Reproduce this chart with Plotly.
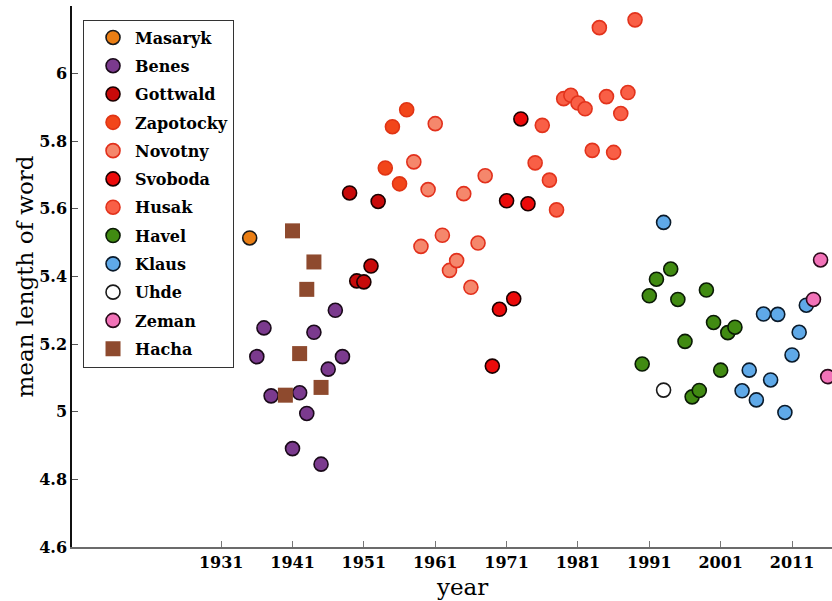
import plotly.graph_objects as go

# ---- data ----
masaryk_year = [1935]
masaryk_val = [5.514]

benes_year = [1936, 1937, 1938, 1941, 1942, 1943, 1944, 1945, 1946, 1947, 1948]
benes_val = [5.163, 5.248, 5.047, 4.891, 5.056, 4.995, 5.235, 4.845, 5.126, 5.300, 5.163]

gottwald_year = [1949, 1950, 1951, 1952, 1953]
gottwald_val = [5.647, 5.387, 5.384, 5.431, 5.622]

zapotocky_year = [1954, 1955, 1956, 1957]
zapotocky_val = [5.721, 5.843, 5.674, 5.893]

novotny_year = [1958, 1959, 1960, 1961, 1962, 1963, 1964, 1965, 1966, 1967, 1968]
novotny_val = [5.739, 5.489, 5.657, 5.852, 5.522, 5.418, 5.447, 5.645, 5.368, 5.499, 5.698]

svoboda_year = [1969, 1970, 1971, 1972, 1973, 1974]
svoboda_val = [5.135, 5.303, 5.624, 5.334, 5.866, 5.615]

husak_year = [1975, 1976, 1977, 1978, 1979, 1980, 1981, 1982, 1983, 1984, 1985, 1986, 1987, 1988, 1989]
husak_val = [5.736, 5.847, 5.685, 5.597, 5.926, 5.936, 5.913, 5.896, 5.773, 6.136, 5.932, 5.767, 5.882, 5.944, 6.159]

havel_year = [1990, 1991, 1992, 1994, 1995, 1996, 1997, 1998, 1999, 2000, 2001, 2002, 2003]
havel_val = [5.141, 5.343, 5.392, 5.422, 5.332, 5.208, 5.044, 5.063, 5.360, 5.264, 5.123, 5.234, 5.250]

klaus_year = [1993, 2004, 2005, 2006, 2007, 2008, 2009, 2010, 2011, 2012, 2013]
klaus_val = [5.560, 5.062, 5.123, 5.035, 5.289, 5.094, 5.288, 4.998, 5.168, 5.235, 5.315]

uhde_year = [1993]
uhde_val = [5.064]

zeman_year = [2014, 2015, 2016]
zeman_val = [5.332, 5.449, 5.104]

hacha_year = [1940, 1941, 1942, 1943, 1944, 1945]
hacha_val = [5.049, 5.535, 5.172, 5.362, 5.443, 5.072]

x_ticks = [1931, 1941, 1951, 1961, 1971, 1981, 1991, 2001, 2011]
y_ticks = [4.6, 4.8, 5.0, 5.2, 5.4, 5.6, 5.8, 6.0]
y_tick_text = ["4.6", "4.8", "5", "5.2", "5.4", "5.6", "5.8", "6"]

series = [
    ("Masaryk", masaryk_year, masaryk_val, "#ea7e14", "#1a1a1a", "circle"),
    ("Benes", benes_year, benes_val, "#7b3a8e", "#1a0a1a", "circle"),
    ("Gottwald", gottwald_year, gottwald_val, "#c80a0a", "#1a0000", "circle"),
    ("Zapotocky", zapotocky_year, zapotocky_val, "#f2461a", "#e03414", "circle"),
    ("Novotny", novotny_year, novotny_val, "#f5876c", "#e2301c", "circle"),
    ("Svoboda", svoboda_year, svoboda_val, "#ec0a0a", "#1a0000", "circle"),
    ("Husak", husak_year, husak_val, "#f95f46", "#e2331c", "circle"),
    ("Havel", havel_year, havel_val, "#418b12", "#0a1a05", "circle"),
    ("Klaus", klaus_year, klaus_val, "#5fa9e8", "#0a1a2a", "circle"),
    ("Uhde", uhde_year, uhde_val, "#ffffff", "#1a1a1a", "circle"),
    ("Zeman", zeman_year, zeman_val, "#f272b8", "#2a0a1a", "circle"),
    ("Hacha", hacha_year, hacha_val, "#8e4a2e", "#8e4a2e", "square"),
]

fig = go.Figure()
for name, xs, ys, fill, edge, sym in series:
    fig.add_trace(go.Scatter(
        x=xs, y=ys, mode="markers", name=name, legendgroup=name,
        marker=dict(symbol=sym, size=15 if sym == "square" else 14,
                    color=fill,
                    line=dict(color=edge, width=0 if sym == "square" else 1.6)),
    ))

fig.update_layout(
    width=832, height=601,
    margin=dict(l=72, r=0, t=6, b=54),
    paper_bgcolor="white", plot_bgcolor="white",
    font=dict(family="DejaVu Serif", color="black"),
    showlegend=True,
    legend=dict(
        x=0.0145, y=0.975, xanchor="left", yanchor="top",
        bgcolor="white", bordercolor="#333333", borderwidth=1,
        font=dict(family="DejaVu Serif", size=16, color="black", weight="bold"),
        tracegroupgap=4.5, itemsizing="trace",
        indentation=7, itemwidth=34,
    ),
    xaxis=dict(
        range=[1910.1, 2016.6], tickmode="array", tickvals=x_ticks,
        ticks="inside", ticklen=6, tickcolor="#777777",
        showline=True, linecolor="#6b6b6b", linewidth=1.5,
        showgrid=False, zeroline=False, automargin=False,
        tickfont=dict(family="DejaVu Serif", size=16, color="black", weight="bold"),
    ),
    yaxis=dict(
        range=[4.6, 6.2], tickmode="array", tickvals=y_ticks, ticktext=y_tick_text,
        ticks="inside", ticklen=6, tickcolor="#555555",
        showline=True, linecolor="#111111", linewidth=1.5,
        showgrid=False, zeroline=False, automargin=False,
        tickfont=dict(family="DejaVu Serif", size=16, color="black", weight="bold"),
    ),
    annotations=[
        dict(text="year", xref="paper", yref="paper", x=(462 - 72) / 760, y=-(587 - 546.7) / 540.7,
             xanchor="center", yanchor="middle", showarrow=False,
             font=dict(family="DejaVu Serif", size=23, color="black")),
        dict(text="mean length of word", xref="paper", yref="paper", x=-(72 - 24) / 760, y=0.5,
             xanchor="center", yanchor="middle", showarrow=False, textangle=-90,
             font=dict(family="DejaVu Serif", size=23, color="black")),
    ],
)

fig.write_html("out.html", config={"displayModeBar": False},
               post_script="document.body.style.margin='0';document.body.style.overflow='hidden';")
